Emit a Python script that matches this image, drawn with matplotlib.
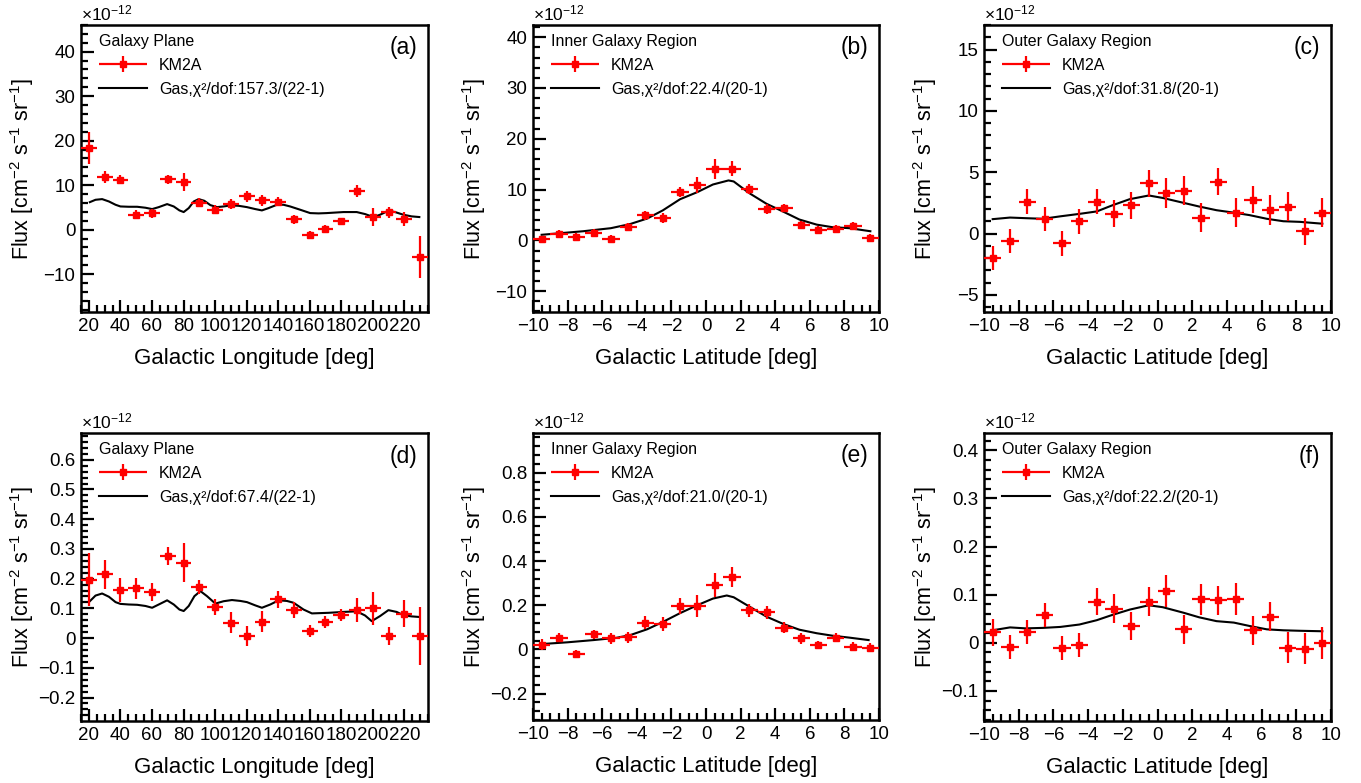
""" KM2A flux profiles along galactic longitude / latitude compared with gas template """

import matplotlib
matplotlib.use("Agg")
import matplotlib.pyplot as plt
from matplotlib.ticker import MultipleLocator
from matplotlib.legend_handler import HandlerErrorbar
import numpy as np

plt.rcParams["font.family"] = ["Liberation Sans", "DejaVu Sans"]
plt.rcParams["mathtext.fontset"] = "custom"
plt.rcParams["mathtext.rm"] = "Liberation Sans"
plt.rcParams["mathtext.it"] = "Liberation Sans:italic"

# ---- bin centres ----
lon = np.arange(20, 231, 10)
lat = np.arange(-9.5, 9.6, 1.0)

# ---- panel (a): galaxy plane, low energy ----
a_flux = [18.4, 11.9, 11.2, 3.4, 3.7, 11.3, 10.8, 6.1, 4.5, 5.8, 7.5,
          6.6, 6.3, 2.3, -1.1, 0.2, 1.9, 8.7, 2.8, 3.9, 2.4, -6.2]
a_err = [3.6, 1.3, 1.0, 1.0, 1.0, 1.0, 2.0, 1.0, 1.0, 1.2, 1.3,
         1.2, 1.0, 1.0, 0.8, 0.8, 0.6, 1.3, 2.0, 1.3, 1.5, 4.7]
a_gas_x = [20.6, 24.2, 28.4, 32.7, 36.9, 40.0, 45.3, 50.6, 55.9, 60.1, 64.3,
           69.6, 73.8, 77.4, 80.1, 83.3, 86.5, 89.6, 93.2, 97.0, 101.2, 105.4,
           109.7, 114.9, 120.2, 125.5, 129.7, 133.9, 139.2, 143.4, 147.6, 154.0,
           160.3, 165.6, 170.8, 181.4, 189.8, 195.1, 200.4, 204.6, 209.9, 214.1,
           219.4, 224.6, 229.5]
a_gas_y = [6.19, 6.72, 6.87, 6.34, 5.60, 5.22, 5.15, 5.15, 4.93, 4.63, 5.07,
           5.75, 5.22, 4.33, 3.96, 4.85, 6.34, 6.87, 6.49, 5.52, 5.07, 5.22,
           5.45, 5.37, 5.07, 4.63, 4.33, 4.85, 5.60, 5.60, 5.22, 4.48,
           3.73, 3.66, 3.73, 3.96, 3.96, 3.51, 2.84, 3.36, 4.25, 3.96,
           3.36, 2.99, 2.84]

# ---- panel (b): inner galaxy, low energy ----
b_flux = [0.3, 1.3, 0.7, 1.5, 0.3, 2.6, 4.9, 4.4, 9.5, 10.9,
          14.1, 14.1, 10.1, 6.1, 6.4, 3.0, 2.0, 2.3, 2.9, 0.5]
b_err = [0.6, 0.8, 0.7, 0.8, 0.8, 0.8, 0.8, 0.9, 1.0, 1.5,
         2.0, 1.5, 1.0, 1.0, 0.8, 0.8, 0.8, 0.8, 0.8, 0.8]
b_gas_x = [-9.5, -7.1, -5.5, -4.4, -3.4, -2.5, -1.5, -0.5, 0.4, 1.3, 1.6,
           2.5, 3.5, 4.5, 5.4, 6.4, 7.3, 8.3, 9.5]
b_gas_y = [1.1, 1.8, 2.4, 3.2, 4.3, 5.9, 8.1, 9.5, 11.0, 11.8, 11.6,
           9.3, 7.2, 5.6, 4.1, 3.1, 2.6, 2.4, 1.8]

# ---- panel (c): outer galaxy, low energy ----
c_flux = [-2.0, -0.6, 2.6, 1.2, -0.8, 1.0, 2.6, 1.6, 2.3, 4.1,
          3.3, 3.5, 1.3, 4.2, 1.7, 2.75, 1.9, 2.2, 0.2, 1.7]
c_err = [0.95, 1.0, 1.0, 1.0, 1.0, 1.0, 1.0, 1.1, 1.1, 1.1,
         1.2, 1.2, 1.2, 1.1, 1.2, 1.1, 1.2, 1.2, 1.1, 1.2]
c_gas_x = [-9.5, -8.5, -7.6, -6.6, -5.6, -4.5, -3.5, -2.6, -1.6, -0.5, 0.3,
           1.5, 2.4, 3.4, 4.4, 5.3, 6.3, 7.25, 8.2, 9.5]
c_gas_y = [1.17, 1.3, 1.25, 1.2, 1.4, 1.6, 1.8, 2.3, 2.8, 3.1, 2.9,
           2.5, 2.2, 1.9, 1.7, 1.5, 1.2, 1.0, 0.95, 0.8]

# ---- panel (d): galaxy plane, high energy ----
d_flux = [0.197, 0.214, 0.163, 0.168, 0.156, 0.275, 0.254, 0.172, 0.104, 0.052, 0.007,
          0.055, 0.130, 0.096, 0.024, 0.054, 0.077, 0.094, 0.100, 0.006, 0.082, 0.007]
d_err = [0.090, 0.050, 0.040, 0.035, 0.030, 0.030, 0.065, 0.025, 0.027, 0.035, 0.035,
         0.035, 0.030, 0.027, 0.020, 0.020, 0.020, 0.040, 0.055, 0.030, 0.045, 0.097]
d_gas_x = [20.6, 24.2, 28.4, 32.7, 36.9, 40.0, 45.3, 50.6, 55.9, 60.1, 64.3,
           69.6, 73.8, 77.4, 80.1, 83.3, 86.9, 90.7, 94.9, 100.2, 105.4, 110.7,
           116.0, 120.2, 125.5, 129.7, 135.0, 140.3, 145.5, 149.7, 156.1, 161.4,
           171.9, 181.4, 189.8, 195.1, 199.3, 204.6, 209.9, 215.1, 219.4, 224.6, 229.5]
d_gas_y = [0.124, 0.143, 0.150, 0.139, 0.121, 0.115, 0.113, 0.112, 0.108, 0.102, 0.113,
           0.127, 0.113, 0.096, 0.091, 0.108, 0.141, 0.158, 0.141, 0.116, 0.124, 0.128,
           0.125, 0.121, 0.110, 0.102, 0.113, 0.127, 0.125, 0.119, 0.096, 0.083,
           0.085, 0.088, 0.090, 0.076, 0.057, 0.074, 0.094, 0.088, 0.077, 0.073, 0.071]

# ---- panel (e): inner galaxy, high energy ----
e_flux = [0.020, 0.053, -0.021, 0.068, 0.050, 0.055, 0.121, 0.115, 0.197, 0.198,
          0.292, 0.326, 0.176, 0.168, 0.097, 0.050, 0.020, 0.053, 0.012, 0.008]
e_err = [0.025, 0.020, 0.020, 0.020, 0.025, 0.025, 0.030, 0.030, 0.035, 0.050,
         0.055, 0.045, 0.030, 0.030, 0.025, 0.025, 0.020, 0.020, 0.020, 0.020]
e_gas_x = [-9.5, -8.0, -6.5, -5.2, -4.4, -3.4, -2.5, -1.5, -0.5, 0.4, 1.2, 1.6,
           2.5, 3.5, 4.5, 5.4, 6.4, 7.3, 8.3, 9.4]
e_gas_y = [0.024, 0.032, 0.042, 0.052, 0.064, 0.091, 0.124, 0.164, 0.200, 0.230, 0.244, 0.236,
           0.194, 0.148, 0.114, 0.089, 0.073, 0.062, 0.053, 0.042]

# ---- panel (f): outer galaxy, high energy ----
f_flux = [0.022, -0.008, 0.022, 0.058, -0.010, -0.004, 0.085, 0.071, 0.035, 0.085,
          0.108, 0.028, 0.090, 0.088, 0.091, 0.026, 0.054, -0.010, -0.012, -0.001]
f_err = [0.028, 0.025, 0.025, 0.025, 0.025, 0.025, 0.028, 0.030, 0.030, 0.030,
         0.033, 0.030, 0.033, 0.030, 0.033, 0.030, 0.030, 0.033, 0.033, 0.033]
f_gas_x = [-9.5, -8.5, -7.6, -6.6, -5.6, -4.5, -3.5, -2.6, -1.6, -0.5, 0.3,
           1.5, 2.4, 3.4, 4.4, 5.3, 6.3, 7.25, 8.2, 9.5]
f_gas_y = [0.026, 0.032, 0.030, 0.031, 0.033, 0.038, 0.047, 0.058, 0.069, 0.078, 0.074,
           0.0625, 0.053, 0.045, 0.042, 0.035, 0.028, 0.026, 0.025, 0.024]

panels = [
    # tag, region, x, xerr, flux, err, gas_x, gas_y, chi2 label, ylim, major, minor
    ("(a)", "Galaxy Plane", lon, 5, a_flux, a_err, a_gas_x, a_gas_y,
     "157.3/(22-1)", (-18.5, 46), 10, 2),
    ("(b)", "Inner Galaxy Region", lat, 0.5, b_flux, b_err, b_gas_x, b_gas_y,
     "22.4/(20-1)", (-14.1, 42.4), 10, 2),
    ("(c)", "Outer Galaxy Region", lat, 0.5, c_flux, c_err, c_gas_x, c_gas_y,
     "31.8/(20-1)", (-6.4, 17.0), 5, 1),
    ("(d)", "Galaxy Plane", lon, 5, d_flux, d_err, d_gas_x, d_gas_y,
     "67.4/(22-1)", (-0.279, 0.69), 0.1, 0.02),
    ("(e)", "Inner Galaxy Region", lat, 0.5, e_flux, e_err, e_gas_x, e_gas_y,
     "21.0/(20-1)", (-0.32, 0.98), 0.2, 0.04),
    ("(f)", "Outer Galaxy Region", lat, 0.5, f_flux, f_err, f_gas_x, f_gas_y,
     "22.2/(20-1)", (-0.1625, 0.436), 0.1, 0.02),
]

W, H = 1361, 783
fig = plt.figure(figsize=(W / 100, H / 100), dpi=100)

# axes boxes in pixels: left, right, top, bottom
boxes = [(81, 428, 25, 312), (533, 879, 25, 312), (984, 1331, 25, 312),
         (81, 428, 433, 721), (533, 879, 433, 720), (984, 1331, 433, 721)]


def fmt_tick(v, pos):
    if abs(v) < 1e-9:
        return "0"
    s = f"{v:g}"
    return s.replace("-", "\u2212")


for (tag, region, x, xe, flux, err, gx, gy, chi, ylim, major, minor), (l, r, t, b) in zip(panels, boxes):
    ax = fig.add_axes([l / W, 1 - b / H, (r - l) / W, (b - t) / H])

    eb = ax.errorbar(x, flux, xerr=xe, yerr=err, fmt="s", color="red", ms=5,
                     elinewidth=1.6, capsize=0, label="KM2A", zorder=3)
    ln, = ax.plot(gx, gy, color="black", lw=1.5, label="Gas,χ²/dof:" + chi, zorder=2)

    ax.set_ylim(*ylim)
    ax.yaxis.set_major_locator(MultipleLocator(major))
    ax.yaxis.set_minor_locator(MultipleLocator(minor))
    ax.yaxis.set_major_formatter(plt.FuncFormatter(fmt_tick))

    if tag in ("(a)", "(d)"):
        ax.set_xlim(15, 235)
        ax.xaxis.set_minor_locator(MultipleLocator(5))
        ax.set_xticks(np.arange(20, 221, 20))
        ax.set_xlabel("Galactic Longitude [deg]", fontsize=16)
    else:
        ax.set_xlim(-10, 10)
        ax.xaxis.set_major_locator(MultipleLocator(2))
        ax.xaxis.set_minor_locator(MultipleLocator(0.5))
        ax.set_xlabel("Galactic Latitude [deg]", fontsize=16)
    ax.xaxis.set_major_formatter(plt.FuncFormatter(fmt_tick))
    ax.xaxis.set_label_coords(0.5, -0.125)

    ax.set_ylabel(r"Flux [cm$^{-2}$ s$^{-1}$ sr$^{-1}$]", fontsize=15.5)
    ax.yaxis.set_label_coords(-0.13, 0.5)

    for s in ax.spines.values():
        s.set_linewidth(1.8)
    ax.tick_params(which="both", direction="in", top=False, right=False,
                   labelsize=13.5, width=1.6)
    ax.tick_params(which="major", length=9, pad=4)
    ax.tick_params(which="minor", length=5)

    ax.text(0.0, 1.005, r"$\times$10$^{-12}$", transform=ax.transAxes,
            fontsize=12.5, ha="left", va="bottom")
    ax.text(0.97, 0.92, tag, transform=ax.transAxes, fontsize=16.5,
            ha="right", va="center")

    ax.legend([eb, ln], ["KM2A", "Gas,χ²/dof:" + chi], title=region,
              loc="upper left", bbox_to_anchor=(0.052, 0.968),
              frameon=False, fontsize=11.5, title_fontsize=11.5,
              handlelength=3.0, handletextpad=0.75, labelspacing=0.55,
              borderpad=0, borderaxespad=0, alignment="left",
              handler_map={type(eb): HandlerErrorbar(xerr_size=1.5, yerr_size=0.5)})

fig.savefig("out.png", dpi=100)
